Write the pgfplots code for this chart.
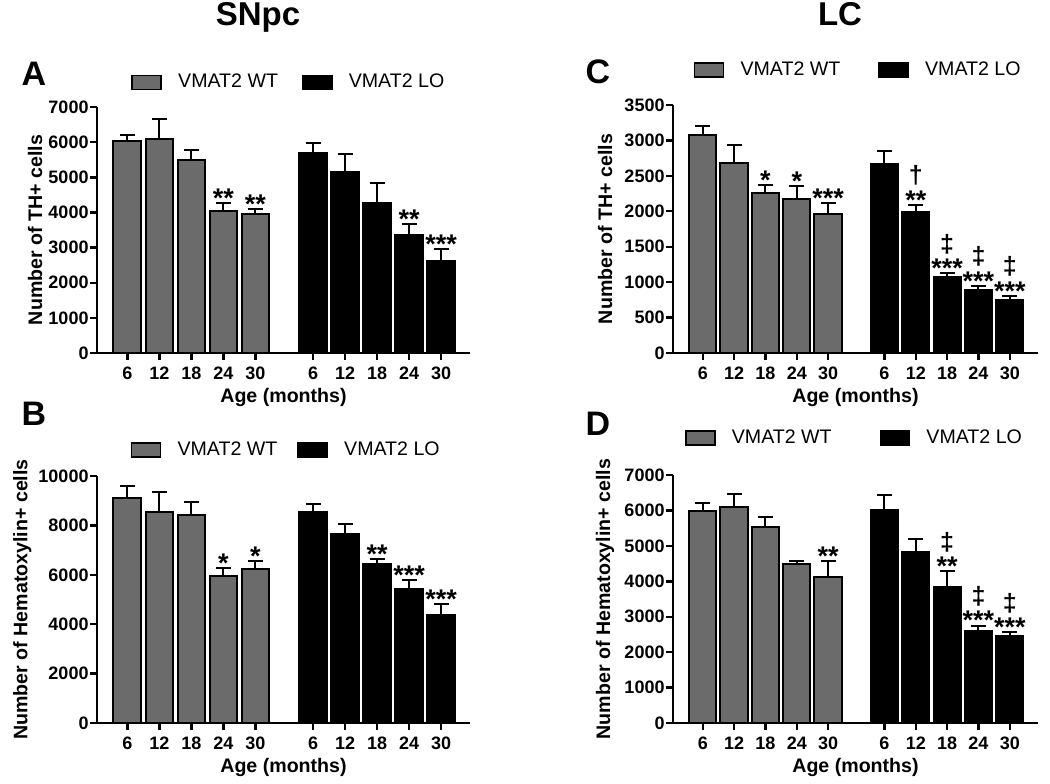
\documentclass[border=0pt]{standalone}
\usepackage{fontspec}
\setmainfont{Liberation Sans}
\usepackage{pgfplots}
\pgfplotsset{compat=1.18}
\definecolor{wtgray}{RGB}{107,107,107}

\pgfplotsset{
  boxlegend/.style={legend image code/.code={\draw[##1,/tikz/.cd,line width=0.8pt] (0pt,-3.5pt) rectangle (14.5pt,3.5pt); \path (20.5pt,0pt);}},
  panel/.style={
    scale only axis, anchor=south west,
    ybar, boxlegend, bar width=0.87,
    xmin=-0.95, xmax=10.7, ymin=0,
    enlargelimits=false,
    axis x line=bottom, axis y line=left,
    axis line style={-, line width=1.3pt, black},
    tick align=outside,
    major tick length=3.3pt,
    tick style={black, line width=1.2pt},
    xtick={0,1,2,3,4,5.8,6.8,7.8,8.8,9.8},
    xticklabels={6,12,18,24,30,6,12,18,24,30},
    /pgf/number format/assume math mode=true,
    /pgf/number format/1000 sep={},
    scaled y ticks=false,
    tick label style={font=\bfseries\fontsize{9}{10.5}\selectfont},
    xticklabel style={yshift=-0.3pt},
    yticklabel style={xshift=2.6pt},
    xlabel={Age (months)},
    xlabel style={font=\bfseries\fontsize{9.8}{11}\selectfont, at={(axis description cs:0.5,-0.18)}, anchor=center},
    ylabel style={font=\bfseries\fontsize{9.8}{11}\selectfont, anchor=center},
    legend style={draw=none, fill=none, legend columns=2, font=\fontsize{9.8}{11}\selectfont, anchor=center},
  },
  errs/.style={bar shift=0pt, draw=black, line width=1pt,
     error bars/y dir=plus, error bars/y explicit,
     error bars/error mark=|,
     error bars/error bar style={line width=1pt, black},
     error bars/error mark options={black, line width=1pt, mark size=3.75pt}},
  wt/.style={errs, fill=wtgray},
  lo/.style={errs, fill=black},
}
\newcommand{\st}[3]{\node[anchor=base, yshift=-2.2pt, inner sep=0pt, font=\bfseries\fontsize{13.5}{13.5}\selectfont] at (axis cs:#1,#2) {#3};}
\newcommand{\dg}[3]{\node[anchor=base, yshift=10.5pt, inner sep=0pt, font=\bfseries\fontsize{12.5}{12.5}\selectfont] at (axis cs:#1,#2) {#3};}

\begin{document}
\begin{tikzpicture}
\useasboundingbox (0pt,0pt) rectangle (525pt,-391.5pt);
\node[anchor=base, font=\bfseries\fontsize{16.5}{16.5}\selectfont] at (129pt,-12.5pt) {SNpc};
\node[anchor=base, font=\bfseries\fontsize{16.5}{16.5}\selectfont] at (420pt,-12.5pt) {LC};
\node[anchor=base, font=\bfseries\fontsize{17}{17}\selectfont] at (17pt,-42.5pt) {A};
\node[anchor=base, font=\bfseries\fontsize{17}{17}\selectfont] at (299pt,-41.5pt) {C};
\node[anchor=base, font=\bfseries\fontsize{17}{17}\selectfont] at (17pt,-212.5pt) {B};
\node[anchor=base, font=\bfseries\fontsize{17}{17}\selectfont] at (299pt,-217.5pt) {D};

% Panel A
\begin{axis}[panel, at={(48.5pt,-176.5pt)}, width=186.5pt, height=123pt,
  ymax=7000, ytick={0,1000,...,7000},
  ylabel={Number of TH+ cells}, ylabel style={at={(axis description cs:-0.166,0.5)}},
  legend style={at={(0.517,1.10)}, /tikz/every even column/.append style={column sep=10pt}}]
\addplot[wt] table[x=x,y=y,y error=e] {
x y e
0 6020 170
1 6090 560
2 5490 300
3 4030 230
4 3955 145
};
\addlegendentry{VMAT2 WT}
\addplot[lo] table[x=x,y=y,y error=e] {
x y e
5.8 5700 280
6.8 5165 485
7.8 4270 575
8.8 3360 320
9.8 2630 330
};
\addlegendentry{VMAT2 LO}
\st{3}{4260}{**}
\st{4}{4100}{**}
\st{8.8}{3680}{**}
\st{9.8}{2960}{***}
\end{axis}

% Panel B
\begin{axis}[panel, at={(48.5pt,-361.5pt)}, width=186.5pt, height=123.5pt,
  ymax=10000, ytick={0,2000,...,10000},
  ylabel={Number of Hematoxylin+ cells}, ylabel style={at={(axis description cs:-0.20,0.5)}},
  legend style={at={(0.51,1.105)}, /tikz/every even column/.append style={column sep=8pt}}]
\addplot[wt] table[x=x,y=y,y error=e] {
x y e
0 9120 475
1 8554 810
2 8432 528
3 5960 297
4 6216 352
};
\addlegendentry{VMAT2 WT}
\addplot[lo] table[x=x,y=y,y error=e] {
x y e
5.8 8540 325
6.8 7635 405
7.8 6419 216
8.8 5419 365
9.8 4392 419
};
\addlegendentry{VMAT2 LO}
\st{3}{6257}{*}
\st{4}{6568}{*}
\st{7.8}{6635}{**}
\st{8.8}{5784}{***}
\st{9.8}{4811}{***}
\end{axis}

% Panel C
\begin{axis}[panel, at={(336.5pt,-176.5pt)}, width=182.5pt, height=124pt,
  ymax=3500, ytick={0,500,...,3500},
  ylabel={Number of TH+ cells}, ylabel style={at={(axis description cs:-0.186,0.5)}},
  legend style={at={(0.51,1.141)}, /tikz/every even column/.append style={column sep=17pt}}]
\addplot[wt] table[x=x,y=y,y error=e] {
x y e
0 3070 130
1 2686 249
2 2262 108
3 2168 184
4 1966 151
};
\addlegendentry{VMAT2 WT}
\addplot[lo] table[x=x,y=y,y error=e] {
x y e
5.8 2672 183
6.8 1994 99
7.8 1077 52
8.8 884 66
9.8 743 66
};
\addlegendentry{VMAT2 LO}
\st{2}{2370}{*}
\st{3}{2352}{*}
\st{4}{2117}{***}
\st{6.8}{2093}{**}\dg{6.8}{2093}{†}
\st{7.8}{1129}{***}\dg{7.8}{1129}{‡}
\st{8.8}{950}{***}\dg{8.8}{950}{‡}
\st{9.8}{809}{***}\dg{9.8}{809}{‡}
\end{axis}

% Panel D
\begin{axis}[panel, at={(336.5pt,-361.5pt)}, width=182.5pt, height=124pt,
  ymax=7000, ytick={0,1000,...,7000},
  ylabel={Number of Hematoxylin+ cells}, ylabel style={at={(axis description cs:-0.186,0.5)}},
  legend style={at={(0.50,1.149)}, /tikz/every even column/.append style={column sep=22pt}}]
\addplot[wt] table[x=x,y=y,y error=e] {
x y e
0 5985 215
1 6088 377
2 5523 302
3 4496 66
4 4119 452
};
\addlegendentry{VMAT2 WT}
\addplot[lo] table[x=x,y=y,y error=e] {
x y e
5.8 6004 433
6.8 4835 349
7.8 3845 443
8.8 2611 141
9.8 2450 114
};
\addlegendentry{VMAT2 LO}
\st{4}{4571}{**}
\st{7.8}{4288}{**}\dg{7.8}{4288}{‡}
\st{8.8}{2752}{***}\dg{8.8}{2752}{‡}
\st{9.8}{2564}{***}\dg{9.8}{2564}{‡}
\end{axis}
\end{tikzpicture}
\end{document}
